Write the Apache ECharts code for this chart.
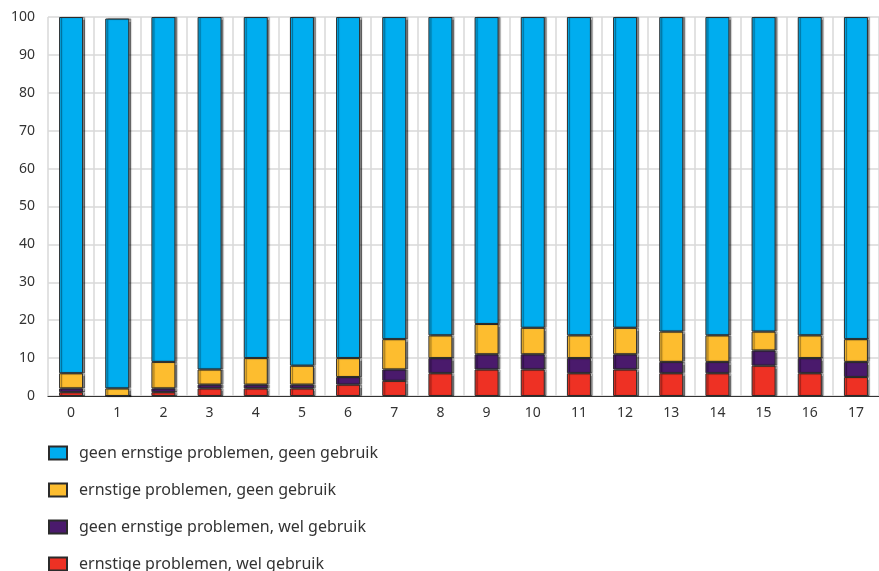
<!DOCTYPE html>
<html>
<head>
<meta charset="utf-8">
<script src="https://cdn.jsdelivr.net/npm/echarts@6/dist/echarts.min.js"></script>
<style>
  html, body { margin: 0; padding: 0; background: #fff; }
  #main { width: 879px; height: 571px; }
</style>
</head>
<body>
<div id="main"></div>
<script>
const CATEGORIES = ['0', '1', '2', '3', '4', '5', '6', '7', '8', '9', '10', '11', '12', '13', '14', '15', '16', '17'];
// stacked from bottom to top
const ERNSTIG_WEL = [1, 0, 1, 2, 2, 2, 3, 4, 6, 7, 7, 6, 7, 6, 6, 8, 6, 5];
const GEEN_ERNSTIG_WEL = [1, 0, 1, 1, 1, 1, 2, 3, 4, 4, 4, 4, 4, 3, 3, 4, 4, 4];
const ERNSTIG_GEEN = [4, 2, 7, 4, 7, 5, 5, 8, 6, 8, 7, 6, 7, 8, 7, 5, 6, 6];
const GEEN_ERNSTIG_GEEN = [94, 97.6, 91, 93, 90, 92, 90, 85, 84, 81, 82, 84, 82, 83, 84, 83, 84, 85];
const Y_TICKS = [0, 10, 20, 30, 40, 50, 60, 70, 80, 90, 100];

var myChart = echarts.init(document.getElementById('main'));

const FONT = 'Noto Sans';
const barStyle = (color) => ({
  color: color,
  borderColor: '#2b2b2b',
  borderWidth: 1,
  shadowColor: 'rgba(0,0,0,0.45)',
  shadowOffsetX: 2,
  shadowBlur: 1
});

const mkSeries = (name, data, color) => ({
  name: name,
  type: 'bar',
  stack: 'total',
  barWidth: '52%',
  itemStyle: barStyle(color),
  emphasis: { disabled: true },
  data: data
});

let option = {
  backgroundColor: '#fff',
  animation: false,
  textStyle: { fontFamily: FONT },
  grid: {
    left: 48,
    right: 0,
    top: 17,
    bottom: 175
  },
  legend: {
    orient: 'vertical',
    left: 48,
    top: 443,
    height: 200,
    padding: 0,
    itemWidth: 18,
    itemHeight: 13,
    itemGap: 17,
    icon: 'rect',
    data: [
      'geen ernstige problemen, geen gebruik',
      'ernstige problemen, geen gebruik',
      'geen ernstige problemen, wel gebruik',
      'ernstige problemen, wel gebruik'
    ],
    textStyle: {
      fontFamily: FONT,
      fontSize: 16,
      color: '#333',
      lineHeight: 20,
      padding: [0, 0, 0, 7]
    }
  },
  xAxis: {
    type: 'category',
    data: CATEGORIES,
    axisLine: { lineStyle: { color: '#333', width: 1.2 } },
    axisTick: { alignWithLabel: true, length: 6, lineStyle: { color: '#555' } },
    axisLabel: { fontSize: 14, color: '#333', margin: 10, fontFamily: FONT },
    splitLine: { show: true, interval: 0, lineStyle: { color: '#d9d9d9', width: 1.5 } }
  },
  yAxis: {
    type: 'value',
    min: Y_TICKS[0],
    max: Y_TICKS[Y_TICKS.length - 1],
    interval: 10,
    axisLine: { show: false },
    axisTick: { show: false },
    axisLabel: { fontSize: 14, color: '#333', margin: 13, fontFamily: FONT },
    splitLine: { lineStyle: { color: '#d9d9d9', width: 1.5 } }
  },
  series: [
    mkSeries('ernstige problemen, wel gebruik', ERNSTIG_WEL, '#ee3124'),
    mkSeries('geen ernstige problemen, wel gebruik', GEEN_ERNSTIG_WEL, '#4a1a6c'),
    mkSeries('ernstige problemen, geen gebruik', ERNSTIG_GEEN, '#fdbd2f'),
    mkSeries('geen ernstige problemen, geen gebruik', GEEN_ERNSTIG_GEEN, '#00adef')
  ]
};
option && myChart.setOption(option);
</script>
</body>
</html>
